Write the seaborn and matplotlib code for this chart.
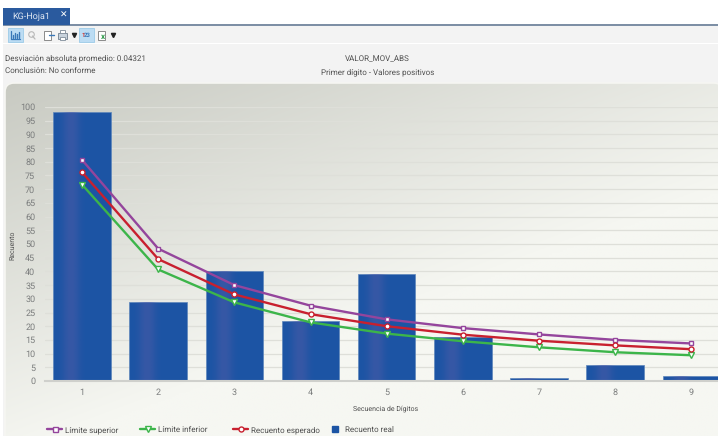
import matplotlib
matplotlib.use('Agg')
import matplotlib.pyplot as plt
from matplotlib.lines import Line2D
from matplotlib.patches import FancyBboxPatch, Rectangle
import numpy as np
import pandas as pd
import seaborn as sns

digits = ['1', '2', '3', '4', '5', '6', '7', '8', '9']
real = [98, 29, 40, 22, 39, 16, 1, 6, 2]
superior = [80.7, 48.3, 35, 27.5, 22.5, 19.3, 17, 15, 13.7]
esperado = [76.2, 44.5, 31.6, 24.4, 20, 16.9, 14.7, 13, 11.6]
inferior = [71.7, 40.7, 28.7, 21.4, 17.3, 14.5, 12.3, 10.5, 9.4]
y_ticks = list(range(0, 105, 5))

sns.set_theme(style='white')
plt.rcParams['font.family'] = ['Roboto', 'DejaVu Sans']
plt.rcParams['text.hinting'] = 'no_hinting'
plt.rcParams['text.hinting_factor'] = 1
W, H = 718, 436
TXT = '#505050'
TICK = '#7b7d7d'
PURPLE, GREEN, RED, BLUE = '#94459c', '#3cb54a', '#c8202f', '#1c54a4'

fig = plt.figure(figsize=(W/100, H/100), dpi=100, facecolor='white')

# window chrome in pixel coordinates
bg = fig.add_axes([0, 0, 1, 1], zorder=0)
bg.set_xlim(0, W); bg.set_ylim(H, 0); bg.axis('off')
bg.add_patch(Rectangle((3, 25), W, H, fc='#f3f3f3', ec='none', zorder=0.1))
bg.add_patch(Rectangle((3, 24.5), W, 1.5, fc='#7d8fa5', ec='none'))
bg.add_patch(Rectangle((3, 8), 67, 17, fc='#2a5a9e', ec='none'))
bg.text(12, 16.5, 'KG-Hoja1', color='#dfe7f2', fontsize=6.6, va='center')
bg.text(64, 15.5, '✕', color='white', fontsize=6.5, va='center', ha='center', fontweight='bold',
        family=['DejaVu Sans'])
bg.add_patch(Rectangle((3, 43), W, 1.5, fc='white', ec='none'))
for x0, x1 in [(8, 23), (79, 94)]:
    bg.add_patch(Rectangle((x0, 28), x1-x0, 14, fc='#bcdcf3', ec='#9ccbe8', lw=0.6))
# toolbar icons
bg.plot([11, 11, 20], [31, 39, 39], color='#3a78b8', lw=0.9)
for x, h in [(13, 3), (15, 5), (17, 4), (19, 6)]:
    bg.plot([x, x], [38.5, 38.5-h], color='#3a78b8', lw=1)
bg.plot(31, 34.5, 'o', ms=4, mfc='none', mec='#b8b8b8', mew=0.8)
bg.plot([32.5, 35], [36, 39], color='#b8b8b8', lw=0.9)
bg.add_patch(Rectangle((44, 31), 7, 9, fc='white', ec='#8a8a8a', lw=0.7))
bg.plot([49, 54], [35, 35], color='#3a78b8', lw=1)
bg.add_patch(Rectangle((58, 33), 9, 6, fc='#c8d2dc', ec='#7f8c99', lw=0.7))
bg.add_patch(Rectangle((60, 30), 5, 3, fc='white', ec='#7f8c99', lw=0.6))
bg.add_patch(Rectangle((60, 37), 5, 3, fc='white', ec='#7f8c99', lw=0.6))
bg.plot(74, 35, 'v', ms=3, color='#222222')
bg.text(81, 35, '1', color='#d8342c', fontsize=4.5, fontweight='bold', va='center')
bg.text(84, 35, '23', color='#3a78b8', fontsize=4.5, fontweight='bold', va='center')
bg.add_patch(Rectangle((98, 31), 7, 9, fc='white', ec='#8a8a8a', lw=0.7))
bg.text(103, 37, 'x', color='#2f9a4a', fontsize=6, fontweight='bold', va='center', ha='center')
bg.plot(113, 35, 'v', ms=3, color='#222222')

bg.text(5, 58.5, 'Desviación absoluta promedio: 0.04321', color=TXT, fontsize=6.1, va='center')
bg.text(5, 70.5, 'Conclusión: No conforme', color=TXT, fontsize=6.1, va='center')
bg.text(377, 59.5, 'VALOR_MOV_ABS', color=TXT, fontsize=6.1, va='center', ha='center')
bg.text(378, 72, 'Primer dígito - Valores positivos', color=TXT, fontsize=6.1, va='center', ha='center')

# panel with diagonal gradient
n = 200
gx, gy = np.meshgrid(np.linspace(0, 1, n), np.linspace(0, 1, n))
t = np.clip((gx*0.75 + gy*1.0)/1.05, 0, 1)
c0, c1 = np.array([200, 202, 194])/255, np.array([246, 247, 242])/255
grad = (c0[None, None, :]*(1-t[..., None]) + c1[None, None, :]*t[..., None])
panel = FancyBboxPatch((5, 83), W, H, boxstyle='round,pad=0,rounding_size=9', fc='none', ec='#f6f6f2', lw=1.2, zorder=0.6)
bg.add_patch(panel)
im = bg.imshow(grad, extent=(5, W+5, H+5, 83), aspect='auto', zorder=0.5)
im.set_clip_path(panel)
bg.set_xlim(0, W); bg.set_ylim(H, 0)

# plot area: 45..718 px, y=0 at 381, y=100 at 107
left, right, bottom, top = 45, 718, 381, 107
ax = fig.add_axes([left/W, 1-bottom/H, (right-left)/W, (bottom-top)/H], zorder=2)
ax.patch.set_alpha(0)

df = pd.DataFrame({'digito': digits, 'real': real})
sns.barplot(data=df, x='digito', y='real', color=BLUE, width=0.755, saturation=1, ax=ax, zorder=2)
ax.set_xlim(-0.486, 8.35)
ax.set_ylim(0, 100)

# lighter band down the middle of each bar
stripe = np.array([0.0, 0.03, 0.15, 0.35, 0.5, 0.5, 0.35, 0.15, 0.03, 0.0, 0.0, 0.0, 0.0, 0.0, 0.0, 0.0])
for p in ax.patches:
    p.set_edgecolor('#5d86bb'); p.set_linewidth(0.5)
    cols = np.zeros((1, len(stripe), 4))
    cols[..., :3] = np.array([0x50, 0x5c, 0xa8])/255
    cols[..., 3] = stripe
    x0, w, h = p.get_x(), p.get_width(), p.get_height()
    g = ax.imshow(cols, extent=(x0, x0+w, 0, h), aspect='auto', zorder=2.5, interpolation='bilinear')
    g.set_clip_path(p)
ax.set_xlim(-0.486, 8.35)
ax.set_ylim(0, 100)

series = [(superior, PURPLE, 's', 3.4), (inferior, GREEN, 'v', 4.2), (esperado, RED, 'o', 3.6)]
for vals, col, mk, ms in series:
    sns.lineplot(x=digits, y=vals, color=col, lw=1.7, marker=mk, ms=ms, mfc='white', mec=col, mew=1,
                 sort=False, errorbar=None, ax=ax, zorder=3)

ax.set_yticks(y_ticks)
ax.grid(axis='y', color='#dedfd9', lw=0.9, zorder=0)
ax.set_axisbelow(True)
for s in ['top', 'right', 'left']:
    ax.spines[s].set_visible(False)
ax.spines['bottom'].set_color('#cfd0cc'); ax.spines['bottom'].set_linewidth(1.5)
ax.tick_params(axis='both', length=0, labelsize=6.4, labelcolor=TICK)
ax.tick_params(axis='x', pad=5)
ax.tick_params(axis='y', pad=7)
ax.set_xlabel('Secuencia de Dígitos', fontsize=5, color=TXT)
ax.xaxis.set_label_coords((386-left)/(right-left), -(405.5-bottom)/(bottom-top), transform=ax.transAxes)
ax.set_ylabel('Recuento', fontsize=5, color=TXT)
ax.yaxis.set_label_coords((17-left)/(right-left), (bottom-245)/(bottom-top), transform=ax.transAxes)

# separate legends, the gaps between entries are not even
entries = [
    (47, Line2D([], [], color=PURPLE, lw=1.7, marker='s', ms=3.6, mfc='white', mec=PURPLE, mew=1), 'Límite superior'),
    (140, Line2D([], [], color=GREEN, lw=1.7, marker='v', ms=4.2, mfc='white', mec=GREEN, mew=1), 'Límite inferior'),
    (233, Line2D([], [], color=RED, lw=1.7, marker='o', ms=3.6, mfc='white', mec=RED, mew=1), 'Recuento esperado'),
    (331, Line2D([], [], color='none', marker='s', ms=5, mfc=BLUE, mec=BLUE), 'Recuento real'),
]
for x, h, lab in entries:
    hl = 1.8 if lab != 'Recuento real' else 1.0
    tp = 0.35 if lab != 'Recuento real' else 0.6
    leg = fig.legend([h], [lab], loc='center left', bbox_to_anchor=(x/W, 1-430/H), frameon=False,
                     fontsize=6.1, labelcolor=TXT, handlelength=hl, handletextpad=tp,
                     borderpad=0, borderaxespad=0)
    leg.set_zorder(5)

fig.savefig('out.png', dpi=100)
